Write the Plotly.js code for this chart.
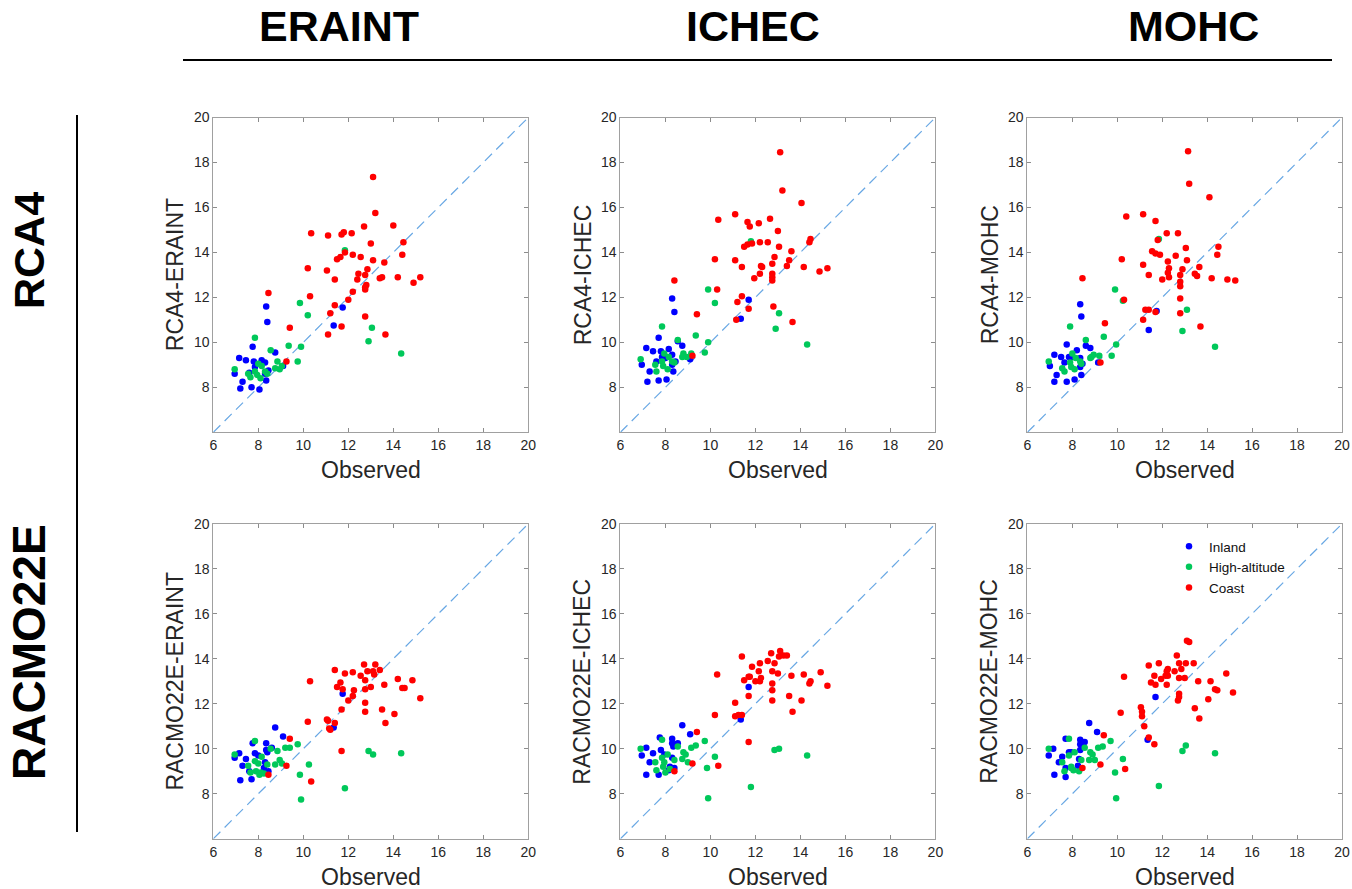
<!DOCTYPE html>
<html>
<head>
<meta charset="utf-8">
<script src="https://cdn.plot.ly/plotly-3.0.1.min.js"></script>
<style>
html,body{margin:0;padding:0;background:#fff;}
#chart{width:1352px;height:889px;}
</style>
</head>
<body>
<div id="chart"></div>
<script>
// ---------- labels ----------
const gcmNames = ["ERAINT", "ICHEC", "MOHC"];
const rcmNames = ["RCA4", "RACMO22E"];
const groupNames = ["Inland", "High-altitude", "Coast"];
const xTickVals = [6, 8, 10, 12, 14, 16, 18, 20];
const yTickVals = [8, 10, 12, 14, 16, 18, 20];
const oneToOneLine = [6, 20];

// ---------- RCA4-ERAINT ----------
const inlandObs_RCA4_ERAINT = [8.35,8.4,11.75,11.35,7.75,8.75,7.15,7.45,7.8,8.15,8.3,7.85,8.45,6.95,7.6,9.1,7.3,8.35,7.2,7.7,8.05,8.3];
const inlandMod_RCA4_ERAINT = [11.6,10.9,11.55,10.75,9.8,9.55,9.3,9.2,9.15,9.2,9.1,8.9,8.75,8.6,8.65,8.95,8.25,8.3,7.95,8.0,7.9,8.6];
const highObs_RCA4_ERAINT = [11.85,9.85,10.2,7.85,13.05,12.9,14.35,9.35,9.9,8.55,8.85,9.75,6.95,8.0,8.15,8.75,8.95,9.05,7.55,7.85,8.3,7.95,7.65,8.1,8.4];
const highMod_RCA4_ERAINT = [14.1,11.75,11.2,10.2,10.65,10.05,9.5,9.85,9.8,9.65,9.15,9.15,8.8,9.05,8.95,8.85,8.8,8.95,8.6,8.7,8.7,8.55,8.45,8.4,8.6];
const coastObs_RCA4_ERAINT = [13.1,13.2,14.0,12.7,10.35,11.1,11.7,11.8,12.15,14.45,13.0,11.85,11.5,11.65,12.2,12.55,13.1,14.4,13.6,10.2,11.05,12.85,12.45,12.75,12.4,11.4,13.4,13.5,14.2,15.2,14.9,12.8,12.75,12.75,12.2,10.3,12.0,11.4,11.2,12.75,11.7,11.1,13.65,9.4,9.25,8.45];
const coastMod_RCA4_ERAINT = [17.35,15.75,15.2,15.15,14.85,14.75,14.8,14.9,14.85,14.45,14.4,14.0,13.7,13.8,13.9,13.8,13.65,13.9,13.55,13.3,13.2,13.25,13.05,13.0,12.8,12.8,12.85,12.9,12.9,12.9,12.65,12.55,12.45,12.35,12.25,12.05,11.9,11.65,11.3,11.15,10.7,10.35,10.35,10.65,9.15,12.2];

// ---------- RCA4-ICHEC ----------
const inlandObs_RCA4_ICHEC = [8.3,8.4,11.7,11.35,7.7,8.55,8.75,7.15,7.45,7.8,8.15,8.3,7.85,8.0,8.45,7.6,6.95,8.3,9.1,7.3,8.35,7.2,7.7,8.05];
const inlandMod_RCA4_ICHEC = [11.95,11.35,11.9,11.05,10.2,10.05,9.85,9.75,9.6,9.6,9.7,9.45,9.35,9.3,9.15,9.15,9.0,9.0,9.25,8.7,8.7,8.25,8.3,8.35];
const highObs_RCA4_ICHEC = [11.8,9.9,10.2,7.85,13.05,12.9,14.3,9.35,9.9,8.55,9.75,6.9,7.95,8.8,8.95,9.15,8.75,8.15,8.3,8.4,7.55,7.85,7.6,7.9,8.1];
const highMod_RCA4_ICHEC = [14.5,12.35,11.75,10.7,11.3,10.6,9.9,10.3,10.0,10.1,9.55,9.25,9.5,9.5,9.35,9.5,9.35,9.35,9.15,9.1,9.0,9.15,8.7,8.95,8.8];
const coastObs_RCA4_ICHEC = [13.1,13.2,14.05,10.35,11.1,11.65,11.75,12.15,12.65,13.0,11.5,11.65,11.85,12.2,12.55,13.05,14.4,14.45,13.6,10.2,11.1,12.85,11.4,12.25,12.3,12.75,13.5,13.4,14.15,15.2,14.85,12.2,11.95,12.75,12.75,12.75,8.4,10.3,11.4,11.2,11.7,12.8,11.15,13.65,9.4,9.2];
const coastMod_RCA4_ICHEC = [18.45,16.75,16.2,15.45,15.7,15.35,15.15,15.3,15.5,14.95,14.25,14.35,14.4,14.45,14.45,14.25,14.45,14.6,14.05,13.7,13.65,13.8,13.35,13.4,13.35,13.5,13.65,13.4,13.35,13.3,13.15,13.05,12.85,13.05,12.9,12.75,12.75,12.35,12.05,11.8,11.5,11.6,11.0,10.9,11.25,9.4];

// ---------- RCA4-MOHC ----------
const inlandObs_RCA4_MOHC = [8.35,8.4,11.75,11.4,7.75,8.6,8.8,8.2,7.2,7.5,7.85,8.0,8.35,7.65,8.45,7.0,8.35,9.15,7.3,8.4,7.2,7.75,8.1];
const inlandMod_RCA4_MOHC = [11.7,11.15,11.4,10.55,9.9,9.85,9.75,9.65,9.45,9.35,9.35,9.35,9.3,9.1,9.05,8.95,8.9,9.1,8.55,8.55,8.25,8.25,8.35];
const highObs_RCA4_MOHC = [11.85,9.9,10.25,7.9,13.1,12.9,14.35,9.4,9.95,8.6,9.75,6.95,8.0,8.85,8.95,9.2,8.8,8.15,8.35,8.4,7.55,7.9,7.65,7.95,8.1];
const highMod_RCA4_MOHC = [14.6,12.35,11.85,10.7,11.45,10.5,9.8,10.25,9.9,10.1,9.4,9.15,9.5,9.35,9.45,9.4,9.3,9.3,9.15,9.05,8.85,9.1,8.7,8.9,8.8];
const coastObs_RCA4_MOHC = [13.15,13.2,14.1,10.4,11.15,11.7,12.2,12.7,11.8,13.05,14.5,14.45,11.55,11.7,11.9,12.6,10.2,11.15,12.25,13.1,12.3,12.9,13.65,11.4,12.25,12.3,12.8,13.45,13.55,14.2,14.9,15.25,12.0,12.8,12.8,8.45,10.3,12.8,11.25,11.4,11.7,12.8,11.15,13.7,9.45,9.25];
const coastMod_RCA4_MOHC = [18.5,17.05,16.45,15.6,15.7,15.4,14.85,14.85,14.55,14.2,14.25,13.9,14.05,13.95,13.9,13.85,13.7,13.45,13.6,13.65,13.3,13.25,13.35,13.0,13.1,12.9,13.0,13.05,12.95,12.85,12.8,12.75,12.8,12.7,12.5,12.85,11.9,11.95,11.45,11.45,11.35,11.3,11.0,10.7,10.85,9.1];

// ---------- RACMO22E-ERAINT ----------
const inlandObs_RACMO_ERAINT = [11.75,11.35,8.75,9.1,7.75,8.35,8.6,8.35,8.4,7.15,6.95,7.85,7.45,7.3,8.3,8.25,7.6,8.45,7.2,7.7,8.0];
const inlandMod_RACMO_ERAINT = [12.45,10.95,10.95,10.55,10.25,10.25,10.05,9.95,9.85,9.8,9.6,9.8,9.55,9.25,9.4,9.15,9.0,9.0,8.6,8.65,9.7];
const highObs_RACMO_ERAINT = [7.85,6.95,8.15,8.55,8.85,9.2,9.4,9.75,8.95,9.05,8.75,8.4,8.0,7.55,7.85,7.65,7.9,8.05,8.25,8.1,10.25,9.85,9.9,11.85,12.9,13.1,14.35];
const highMod_RACMO_ERAINT = [10.35,9.75,9.65,10.0,9.9,10.05,10.05,10.2,9.5,9.35,9.3,9.3,9.35,9.25,9.45,8.95,9.0,8.85,8.9,8.95,9.3,8.85,7.75,8.25,9.9,9.75,9.8];
const coastObs_RACMO_ERAINT = [12.7,13.2,11.4,11.85,12.2,12.55,12.85,13.1,13.15,13.4,12.75,10.3,11.65,11.5,11.75,12.25,12.75,13.0,13.6,14.2,14.85,14.4,14.5,15.2,12.2,12.0,12.75,11.7,12.75,13.5,14.05,10.2,11.05,11.1,11.4,11.15,11.2,13.65,9.4,11.7,9.25,8.45,10.35];
const coastMod_RACMO_ERAINT = [13.75,13.75,13.5,13.35,13.4,13.25,13.45,13.45,13.3,13.5,13.05,13.0,12.95,12.75,12.65,12.6,12.65,12.75,12.85,13.1,13.05,12.7,12.7,12.25,12.35,12.15,12.05,11.75,11.65,11.75,11.55,11.2,11.3,11.25,11.15,10.9,10.85,11.15,10.45,9.9,9.25,8.85,8.55];

// ---------- RACMO22E-ICHEC ----------
const inlandObs_RACMO_ICHEC = [11.7,11.35,8.75,9.1,7.75,8.3,8.55,8.3,8.35,7.15,7.8,7.45,6.95,7.95,8.3,7.3,8.2,8.4,8.15,7.15,7.7];
const inlandMod_RACMO_ICHEC = [12.75,11.3,11.05,10.65,10.5,10.45,10.25,10.25,10.1,10.05,9.95,9.8,9.7,9.75,9.6,9.4,9.2,9.15,9.05,8.85,8.85];
const highObs_RACMO_ICHEC = [7.85,6.9,8.1,8.55,8.8,8.9,9.15,9.35,9.75,8.75,9.0,8.4,7.95,7.55,7.85,7.6,7.9,8.0,8.2,10.2,9.85,9.9,11.8,12.85,13.05,14.3];
const highMod_RACMO_ICHEC = [10.4,10.0,9.75,10.1,9.85,9.75,10.05,10.15,10.35,9.55,9.4,9.5,9.4,9.4,9.6,9.05,9.2,8.95,9.1,9.65,9.15,7.8,8.3,9.95,10.0,9.7];
const coastObs_RACMO_ICHEC = [13.1,12.7,13.05,13.25,13.4,11.4,12.55,12.2,12.85,11.85,12.15,12.75,13.0,10.3,13.6,14.15,14.9,14.45,14.4,15.2,11.5,11.7,11.75,12.0,12.2,12.25,12.75,12.75,13.5,11.7,12.75,14.05,11.1,13.65,10.2,11.1,11.25,11.4,9.4,11.7,9.2,8.4,10.35];
const coastMod_RACMO_ICHEC = [14.35,14.25,14.1,14.15,14.15,14.1,13.9,13.8,13.8,13.65,13.45,13.45,13.35,13.3,13.25,13.3,13.4,13.0,12.9,12.8,13.05,13.2,13.2,13.0,13.0,13.15,12.9,12.6,12.35,12.35,12.15,12.15,12.05,11.65,11.5,11.45,11.5,11.5,10.75,10.3,9.35,9.0,9.25];

// ---------- RACMO22E-MOHC ----------
const inlandObs_RACMO_MOHC = [11.7,11.35,8.75,9.1,7.7,8.35,8.55,8.35,8.35,7.15,6.95,7.85,7.95,7.4,7.55,7.7,8.3,8.25,7.2,7.7];
const inlandMod_RACMO_MOHC = [12.3,10.4,11.15,10.75,10.45,10.4,10.3,10.2,9.95,10.0,9.7,9.85,9.85,9.4,9.65,9.15,9.55,9.25,8.85,8.75];
const highObs_RACMO_MOHC = [7.85,6.95,8.1,8.55,8.8,8.9,9.15,9.35,9.7,8.75,9.0,8.4,7.95,7.55,7.85,7.65,7.95,8.05,8.3,10.25,9.9,9.95,11.85,12.9,13.05,14.35];
const highMod_RACMO_MOHC = [10.45,10.0,9.85,10.05,9.85,9.75,10.05,10.1,10.35,9.5,9.5,9.5,9.15,9.4,9.7,9.0,9.2,9.05,9.0,9.55,8.95,7.8,8.35,9.9,10.15,9.8];
const coastObs_RACMO_MOHC = [13.1,13.2,12.65,11.4,11.85,12.25,12.2,12.75,12.85,13.05,13.4,12.55,10.3,11.65,11.5,11.7,11.95,12.15,12.25,12.2,12.75,13.0,13.6,14.15,14.85,14.35,14.45,15.15,12.75,12.75,12.7,14.05,10.15,11.05,11.1,11.1,11.2,13.45,13.65,11.4,11.65,9.4,9.25,8.45,10.35];
const coastMod_RACMO_MOHC = [14.8,14.75,14.15,13.7,13.8,13.55,13.45,13.8,13.55,13.8,13.8,13.45,13.2,13.25,12.95,12.85,13.1,13.25,13.25,12.85,13.15,13.15,13.0,13.0,13.35,12.65,12.6,12.5,12.45,12.3,12.15,12.2,11.6,11.85,11.65,11.45,11.0,11.8,11.35,10.5,10.2,10.6,9.3,9.15,9.1];

// ---------- assemble ----------
const panels = [
  {r:0, c:0, groups:[[inlandObs_RCA4_ERAINT, inlandMod_RCA4_ERAINT],[highObs_RCA4_ERAINT, highMod_RCA4_ERAINT],[coastObs_RCA4_ERAINT, coastMod_RCA4_ERAINT]]},
  {r:0, c:1, groups:[[inlandObs_RCA4_ICHEC, inlandMod_RCA4_ICHEC],[highObs_RCA4_ICHEC, highMod_RCA4_ICHEC],[coastObs_RCA4_ICHEC, coastMod_RCA4_ICHEC]]},
  {r:0, c:2, groups:[[inlandObs_RCA4_MOHC, inlandMod_RCA4_MOHC],[highObs_RCA4_MOHC, highMod_RCA4_MOHC],[coastObs_RCA4_MOHC, coastMod_RCA4_MOHC]]},
  {r:1, c:0, groups:[[inlandObs_RACMO_ERAINT, inlandMod_RACMO_ERAINT],[highObs_RACMO_ERAINT, highMod_RACMO_ERAINT],[coastObs_RACMO_ERAINT, coastMod_RACMO_ERAINT]]},
  {r:1, c:1, groups:[[inlandObs_RACMO_ICHEC, inlandMod_RACMO_ICHEC],[highObs_RACMO_ICHEC, highMod_RACMO_ICHEC],[coastObs_RACMO_ICHEC, coastMod_RACMO_ICHEC]]},
  {r:1, c:2, groups:[[inlandObs_RACMO_MOHC, inlandMod_RACMO_MOHC],[highObs_RACMO_MOHC, highMod_RACMO_MOHC],[coastObs_RACMO_MOHC, coastMod_RACMO_MOHC]]}
];

const W = 1352, H = 889;
const FONT = "Liberation Sans, Arial, Helvetica, sans-serif";
const groupColors = ["#0000ff", "#00c85a", "#ff0000"];
const colPx = [[213.3, 528.3], [620.4, 935.4], [1027.4, 1342.0]];
const rowPx = [[117.5, 432.3], [523.8, 838.8]];
const px2x = p => p / W;
const px2y = p => 1 - p / H;

const traces = [];
const layout = {
  width: W, height: H, autosize: false,
  margin: {l: 0, r: 0, t: 0, b: 0, pad: 0},
  paper_bgcolor: "#fff", plot_bgcolor: "#fff",
  font: {family: FONT, color: "#262626", size: 14},
  showlegend: true,
  legend: {
    x: px2x(1169), y: px2y(531), xanchor: "left", yanchor: "top",
    bgcolor: "rgba(0,0,0,0)", borderwidth: 0,
    font: {family: FONT, size: 13.5, color: "#111"},
    tracegroupgap: 0, itemwidth: 30
  },
  annotations: [], shapes: []
};

panels.forEach((p, i) => {
  const n = i + 1;
  const xa = "x" + (n === 1 ? "" : n), ya = "y" + (n === 1 ? "" : n);
  const xKey = "xaxis" + (n === 1 ? "" : n), yKey = "yaxis" + (n === 1 ? "" : n);
  const axBase = {
    range: oneToOneLine.slice(),
    ticks: "inside", ticklen: 4, tickwidth: 1, tickcolor: "#8c8c8c",
    showline: true, linecolor: "#a0a0a0", linewidth: 1, mirror: "ticks",
    showgrid: false, zeroline: false, fixedrange: true,
    tickfont: {family: FONT, size: 14, color: "#262626"}
  };
  layout[xKey] = Object.assign({}, axBase, {
    tickvals: xTickVals, ticktext: xTickVals.map(String),
    domain: [px2x(colPx[p.c][0]), px2x(colPx[p.c][1])], anchor: ya
  });
  layout[yKey] = Object.assign({}, axBase, {
    tickvals: yTickVals, ticktext: yTickVals.map(String),
    domain: [px2y(rowPx[p.r][1]), px2y(rowPx[p.r][0])], anchor: xa
  });
  // 1:1 reference line
  traces.push({
    x: oneToOneLine, y: oneToOneLine, xaxis: xa, yaxis: ya, mode: "lines",
    line: {color: "rgb(105,168,228)", width: 1.2, dash: "10px,6px"},
    showlegend: false, hoverinfo: "skip"
  });
  p.groups.forEach((g, k) => {
    traces.push({
      x: g[0], y: g[1], xaxis: xa, yaxis: ya, mode: "markers", type: "scatter",
      name: groupNames[k],
      marker: {color: groupColors[k], size: 6.5, line: {width: 0}},
      showlegend: (i === 5), legendrank: k + 1
    });
  });
  const cx = (colPx[p.c][0] + colPx[p.c][1]) / 2;
  const cy = (rowPx[p.r][0] + rowPx[p.r][1]) / 2;
  // axis titles
  layout.annotations.push({
    text: "Observed", xref: "paper", yref: "paper",
    x: px2x(cx), y: px2y(rowPx[p.r][1] + 38), xanchor: "center", yanchor: "middle",
    showarrow: false, font: {family: FONT, size: 23, color: "#262626"}
  });
  layout.annotations.push({
    text: rcmNames[p.r] + "-" + gcmNames[p.c], xref: "paper", yref: "paper",
    x: px2x(colPx[p.c][0] - 38), y: px2y(cy), xanchor: "center", yanchor: "middle",
    textangle: -90, showarrow: false, font: {family: FONT, size: 23, color: "#262626"}
  });
});

// column titles
const colTitlePx = [339, 753, 1193];
gcmNames.forEach((g, c) => {
  layout.annotations.push({
    text: "<b>" + g + "</b>", xref: "paper", yref: "paper",
    x: px2x(colTitlePx[c]), y: px2y(26), xanchor: "center", yanchor: "middle",
    showarrow: false, font: {family: FONT, size: 43, color: "#000"}
  });
});
// row titles
const rowTitlePx = [250, 652];
const rowTitleSize = [43, 46];
rcmNames.forEach((r, k) => {
  layout.annotations.push({
    text: "<b>" + r + "</b>", xref: "paper", yref: "paper",
    x: px2x(29), y: px2y(rowTitlePx[k]), xanchor: "center", yanchor: "middle",
    textangle: -90, showarrow: false, font: {family: FONT, size: rowTitleSize[k], color: "#000"}
  });
});
// separator lines
layout.shapes.push({type: "line", xref: "paper", yref: "paper",
  x0: px2x(183), x1: px2x(1332), y0: px2y(60), y1: px2y(60), line: {color: "#000", width: 2}});
layout.shapes.push({type: "line", xref: "paper", yref: "paper",
  x0: px2x(77), x1: px2x(77), y0: px2y(115), y1: px2y(832), line: {color: "#000", width: 2}});

Plotly.newPlot("chart", traces, layout, {staticPlot: true, displayModeBar: false});
</script>
</body>
</html>
